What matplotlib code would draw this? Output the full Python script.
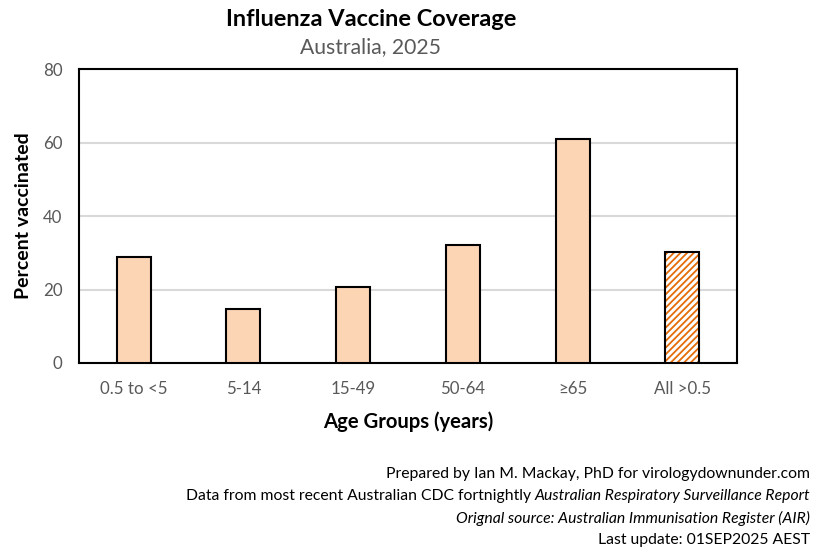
import numpy as np
import matplotlib.pyplot as plt

# Data
age_groups = ['0.5 to <5', '5-14', '15-49', '50-64', '\u226565', 'All >0.5']
coverage = [28.8, 14.7, 20.7, 32.1, 61.0, 30.2]

footer_lines = [
    ('Prepared by Ian M. Mackay, PhD for virologydownunder.com', 'normal'),
    ('Orignal source: Australian Immunisation Register (AIR)', 'italic'),
    ('Last update: 01SEP2025 AEST', 'normal'),
]

plt.rcParams['font.family'] = ['Lato', 'DejaVu Sans']
plt.rcParams['hatch.linewidth'] = 1.3

fig = plt.figure(figsize=(8.22, 5.57), dpi=100)
ax = fig.add_axes([0.0961, 0.3483, 0.8005, 0.5278])

x = np.arange(len(age_groups))
width = 0.31

# age group bars
ax.bar(x[:-1], coverage[:-1], width, color='#FCD5B5', edgecolor='black',
       linewidth=1.5, zorder=3)
# overall bar: orange hatch, black outline
ax.bar(x[-1], coverage[-1], width, color='white', edgecolor='#E46C0A',
       hatch='/////', linewidth=0, zorder=3)
ax.bar(x[-1], coverage[-1], width, fill=False, edgecolor='black',
       linewidth=1.5, zorder=4)

ax.set_xlim(-0.5, len(age_groups) - 0.5)
ax.set_ylim(0, 80)
ax.set_yticks([0, 20, 40, 60, 80])
ax.set_xticks(x)
ax.set_xticklabels(age_groups)
ax.tick_params(length=0, labelsize=12.2, colors='#595959')
ax.tick_params(axis='x', pad=13)
ax.tick_params(axis='y', pad=12)
ax.yaxis.grid(True, color='#D9D9D9', linewidth=1.5, zorder=0)
ax.set_axisbelow(True)
for sp in ax.spines.values():
    sp.set_linewidth(1.5)
    sp.set_color('black')

ax.set_xlabel('Age Groups (years)', fontsize=14.6, fontweight='bold', labelpad=10)
ax.set_ylabel('Percent vaccinated', fontsize=14, fontweight='bold', labelpad=8)

fig.text(0.451, 0.965, 'Influenza Vaccine Coverage', ha='center', va='center',
         fontsize=16.9, fontweight='bold')
fig.text(0.451, 0.915, 'Australia, 2025', ha='center', va='center',
         fontsize=15.2, color='#595959')

# footer
fs = 11.3
fx = 0.985
fig.text(fx, 1 - 474 / 557, footer_lines[0][0], ha='right', va='center', fontsize=fs)
t = fig.text(fx, 1 - 496 / 557, 'Australian Respiratory Surveillance Report',
             ha='right', va='center', fontsize=fs, style='italic')
fig.canvas.draw()
bb = t.get_window_extent()
fig.text(bb.x0 / fig.bbox.width - 0.003, 1 - 496 / 557,
         'Data from most recent Australian CDC fortnightly',
         ha='right', va='center', fontsize=fs)
fig.text(fx, 1 - 518 / 557, footer_lines[1][0], ha='right', va='center',
         fontsize=fs, style='italic')
fig.text(fx, 1 - 540 / 557, footer_lines[2][0], ha='right', va='center', fontsize=fs)

fig.savefig('out.png', dpi=100)
